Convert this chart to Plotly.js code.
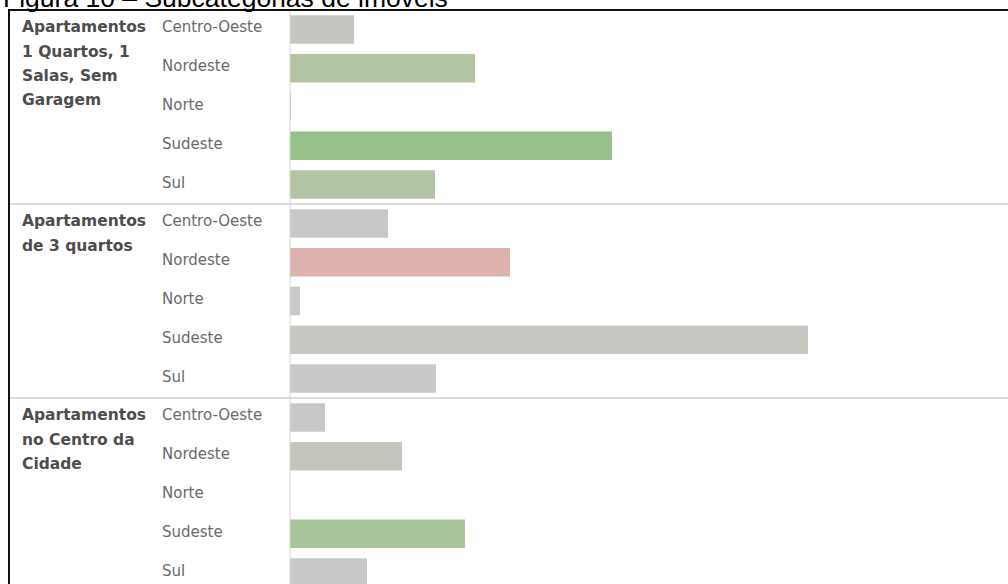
<!DOCTYPE html>
<html>
<head>
<meta charset="utf-8">
<script src="https://cdn.plot.ly/plotly-3.0.1.min.js"></script>
<style>
html,body{margin:0;padding:0;background:#fff;}
#chart{width:1008px;height:584px;}
</style>
</head>
<body>
<div id="chart"></div>
<script>
// ---- data ----
var chartTitle = "Figura 10 – Subcategorias de imóveis";
var regions = ["Centro-Oeste", "Nordeste", "Norte", "Sudeste", "Sul"];
var groupLines = [
  ["Apartamentos", "1 Quartos, 1", "Salas, Sem", "Garagem"],
  ["Apartamentos", "de 3 quartos"],
  ["Apartamentos", "no Centro da", "Cidade"]
];
var valuesG1 = [64, 185, 1, 322, 145];
var valuesG2 = [98, 220, 10, 518, 146];
var valuesG3 = [35, 112, 0, 175, 77];
var colorsG1 = ["#c4c7bf", "#b2c4a2", "#c8c8c8", "#97c08a", "#b3c4a4"];
var colorsG2 = ["#c8c8c8", "#dcb1ae", "#c8c8c8", "#c5c9c1", "#c8c8c8"];
var colorsG3 = ["#c8c8c8", "#c3c7bb", "#c8c8c8", "#a9c59c", "#c8c8c8"];

// ---- layout geometry ----
var W = 1008, H = 584;
var ML = 290, MT = 10;
var PW = W - ML, PH = H - MT;
var rowPx = 38.8;
var yTop = -0.5, yBottom = yTop + PH / rowPx;
function px2paperX(px) { return (px - ML) / PW; }
function px2paperY(py) { return (H - py) / PH; }

var allValues = [valuesG1, valuesG2, valuesG3];
var allColors = [colorsG1, colorsG2, colorsG3];
var ys = [], xs = [], cs = [], texts = [];
var annotations = [];
var shapes = [];
for (var g = 0; g < allValues.length; g++) {
  for (var r = 0; r < regions.length; r++) {
    var row = g * regions.length + r;
    ys.push(row);
    xs.push(allValues[g][r]);
    cs.push(allColors[g][r]);
    texts.push(groupLines[g].join(" ") + " – " + regions[r]);
    annotations.push({
      xref: "paper", yref: "y", x: px2paperX(160), y: row,
      xanchor: "left", yanchor: "middle", showarrow: false,
      text: regions[r], yshift: 2,
      font: {family: "DejaVu Sans", size: 15, color: "#6a6a6a"}
    });
  }
  for (var l = 0; l < groupLines[g].length; l++) {
    annotations.push({
      xref: "paper", yref: "y", x: px2paperX(20),
      y: g * regions.length + l * (24.2 / rowPx),
      xanchor: "left", yanchor: "middle", showarrow: false,
      text: "<b>" + groupLines[g][l] + "</b>", yshift: 2,
      font: {family: "DejaVu Sans", size: 15.5, color: "#4d4d4d"}
    });
  }
  if (g > 0) {
    var sepPx = MT + (g * regions.length) * rowPx;
    shapes.push({
      type: "line", xref: "paper", yref: "paper",
      x0: px2paperX(10), x1: 1, y0: px2paperY(sepPx), y1: px2paperY(sepPx),
      line: {color: "#d2d2d2", width: 1.5}
    });
  }
}

// title (only the lower part is visible in the reference)
annotations.push({
  xref: "paper", yref: "paper", x: px2paperX(1), y: px2paperY(-2.5),
  xanchor: "left", yanchor: "middle", showarrow: false,
  text: chartTitle,
  font: {family: "Liberation Sans", size: 26.5, color: "#000"}
});

// axis line
shapes.push({
  type: "line", xref: "paper", yref: "paper",
  x0: px2paperX(290), x1: px2paperX(290), y0: 0, y1: 1,
  line: {color: "#d6d6d6", width: 1}
});
// frame
shapes.push({
  type: "line", xref: "paper", yref: "paper",
  x0: px2paperX(8), x1: 1, y0: px2paperY(10), y1: px2paperY(10),
  line: {color: "#111", width: 2}
});
shapes.push({
  type: "line", xref: "paper", yref: "paper",
  x0: px2paperX(9), x1: px2paperX(9), y0: 0, y1: px2paperY(9),
  line: {color: "#111", width: 2}
});

var trace = {
  type: "bar", orientation: "h",
  x: xs, y: ys, text: texts, hoverinfo: "text+x",
  textposition: "none",
  marker: {color: cs, line: {width: 0}}
};

var layout = {
  width: W, height: H,
  margin: {l: ML, r: 0, t: MT, b: 0, pad: 0},
  paper_bgcolor: "#fff", plot_bgcolor: "#fff",
  showlegend: false,
  bargap: 0.265,
  xaxis: {range: [0, PW], visible: false, fixedrange: true},
  yaxis: {range: [yBottom, yTop], showticklabels: false, showgrid: false,
          zeroline: false, showline: false, ticks: "", fixedrange: true},
  annotations: annotations,
  shapes: shapes
};

Plotly.newPlot("chart", [trace], layout, {displayModeBar: false, staticPlot: true});
</script>
</body>
</html>
